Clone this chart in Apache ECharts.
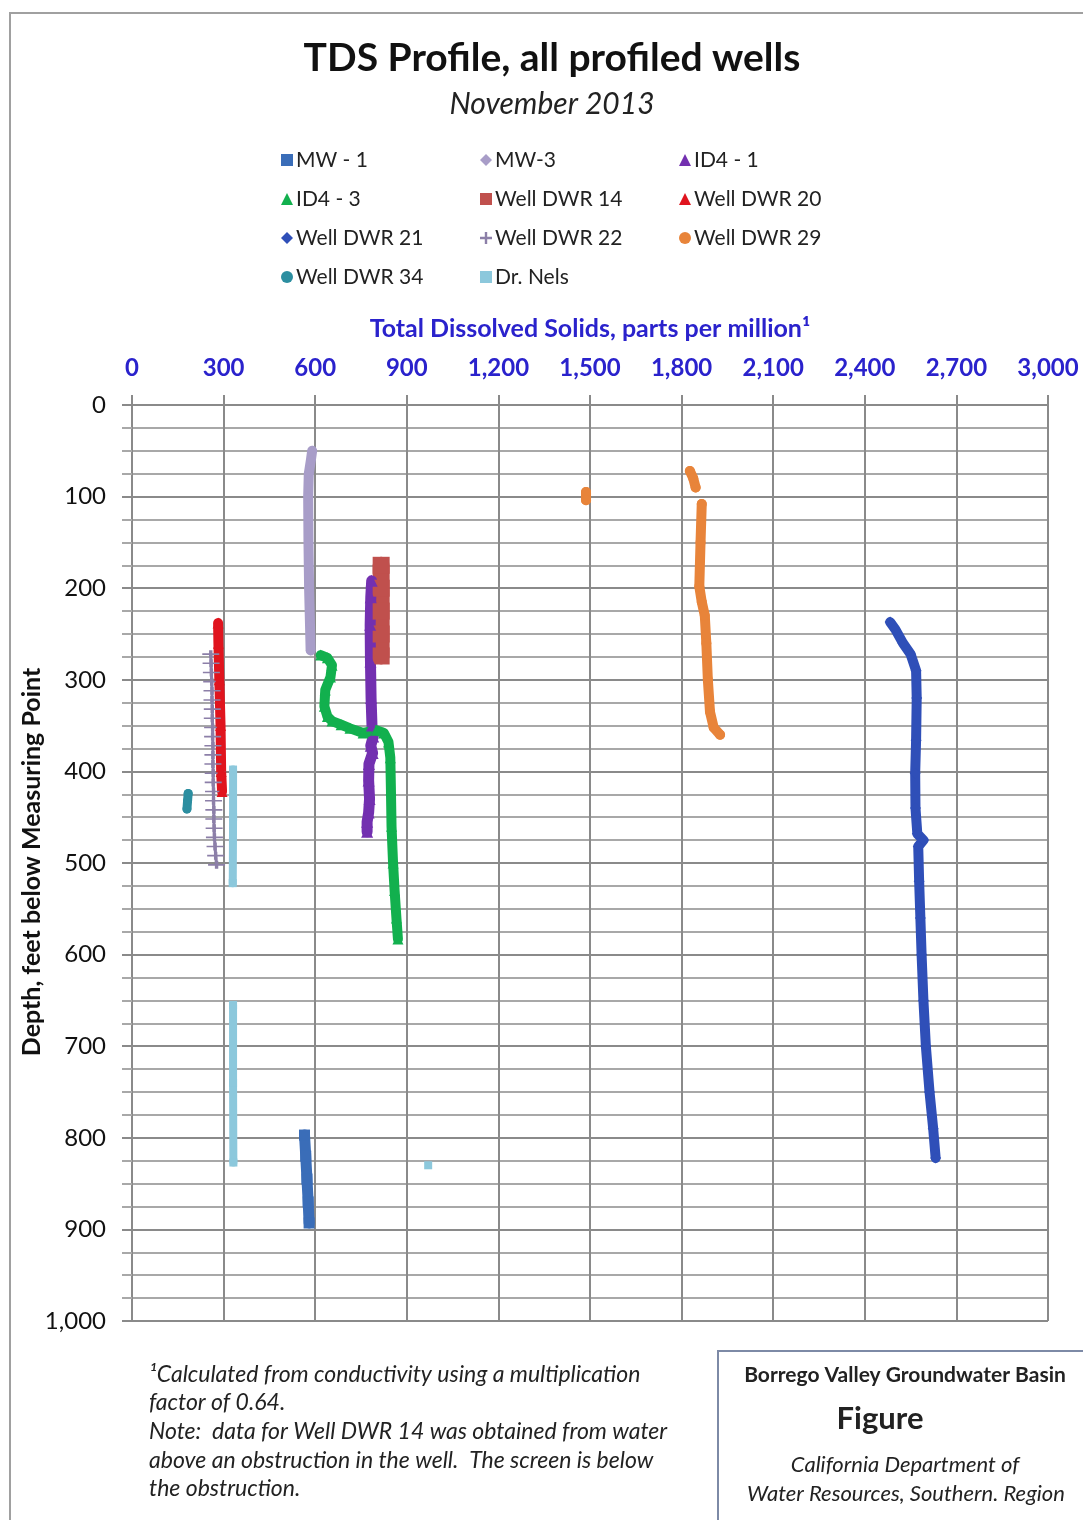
<!DOCTYPE html>
<html>
<head>
<meta charset="utf-8">
<script src="https://cdn.jsdelivr.net/npm/echarts@6/dist/echarts.min.js"></script>
<style>
  html, body { margin: 0; padding: 0; background: #fff; }
  #chart { width: 1083px; height: 1520px; }
</style>
</head>
<body>
<div id="chart"></div>
<script>
// TDS profile (ppm) vs depth (ft below measuring point)
const tdsTicks = [0, 300, 600, 900, 1200, 1500, 1800, 2100, 2400, 2700, 3000];
const depthTicks = [0, 100, 200, 300, 400, 500, 600, 700, 800, 900, 1000];

// each point: [tds, depth]; '-' breaks a trace
const mw1 = [[565, 797], [569, 820], [573, 845], [577, 870], [580, 893]];
const mw3 = [[590, 50], [586, 60], [579, 75], [577, 100], [578, 150], [580, 200], [583, 240], [585, 268]];
const id41 = [[785, 192], [782, 210], [780, 240], [781, 280], [783, 320], [786, 350], [790, 362],
  [782, 372], [788, 380], [776, 392], [775, 410], [778, 430], [775, 445], [770, 455], [770, 466]];
const id43 = [[618, 273], [640, 276], [655, 284], [650, 297], [633, 311], [630, 329], [640, 340],
  [655, 345], [685, 349], [714, 353], [757, 358], [800, 355], [825, 358], [840, 368], [846, 385],
  [848, 420], [850, 460], [855, 500], [860, 530], [866, 560], [871, 583]];
const dwr14 = [[816, 175], [816, 200], [816, 225], [816, 250], [816, 274]];
const dwr20 = [[282, 238], [283, 260], [286, 300], [290, 350], [292, 400], [295, 422]];
const dwr21 = [[2483, 237], [2500, 245], [2525, 260], [2550, 272], [2568, 290], [2570, 320],
  [2568, 366], [2565, 402], [2566, 440], [2572, 468], [2592, 475], [2575, 482], [2578, 520],
  [2582, 560], [2586, 600], [2592, 650], [2600, 700], [2612, 750], [2624, 790], [2632, 822]];
const dwr22 = [[258, 272], [259, 282], [260, 292], [261, 302], [262, 312], [262, 322], [263, 332],
  [263, 342], [264, 352], [264, 362], [265, 372], [265, 382], [265, 392], [266, 402], [266, 412],
  [267, 422], [267, 432], [268, 442], [268, 452], [269, 462], [270, 472], [272, 482], [274, 492], [277, 502]];
const dwr29 = [[1487, 95], [1487, 104], '-', [1827, 72], [1838, 80], [1846, 90], '-',
  [1866, 108], [1862, 150], [1858, 198], [1866, 215], [1876, 230], [1881, 260], [1886, 300],
  [1893, 335], [1905, 352], [1926, 360]];
const dwr34 = [[184, 424], [182, 432], [180, 441]];
const drNels = [[331, 398], [331, 450], [330, 522], '-', [331, 655], [331, 740], [332, 827], '-', [970, 830]];

const legendCols = [
  ["MW - 1", "ID4 - 3", "Well DWR 21", "Well DWR 34"],
  ["MW-3", "Well DWR 14", "Well DWR 22", "Dr. Nels"],
  ["ID4 - 1", "Well DWR 20", "Well DWR 29"]
];

const plusPath = "path://M0,4H10V6H0Z M4,0H6V10H4Z";
const icons = {
  "MW - 1": "rect", "MW-3": "diamond", "ID4 - 1": "triangle", "ID4 - 3": "triangle",
  "Well DWR 14": "rect", "Well DWR 20": "triangle", "Well DWR 21": "diamond",
  "Well DWR 22": plusPath, "Well DWR 29": "circle", "Well DWR 34": "circle", "Dr. Nels": "rect"
};

const fmt = v => String(v).replace(/\B(?=(\d{3})+(?!\d))/g, ",");
const font = "Lato, 'Open Sans', sans-serif";

function trace(name, data, color, width, symbol, size) {
  return {
    name: name,
    type: "line",
    data: data,
    color: color,
    lineStyle: { width: width, color: color, cap: "round", join: "round" },
    symbol: symbol,
    symbolSize: size,
    itemStyle: { color: color },
    connectNulls: false,
    animation: false
  };
}

const myChart = echarts.init(document.getElementById("chart"), null, { renderer: "canvas" });

const option = {
  backgroundColor: "#fff",
  animation: false,
  grid: { left: 132, right: 35, top: 405, bottom: 199 },
  legend: legendCols.map((col, i) => ({
    orient: "vertical",
    left: [276, 475, 674][i],
    top: 144,
    itemWidth: 12,
    itemHeight: 12,
    itemGap: 17,
    textStyle: { fontFamily: font, fontSize: 21, color: "#222", lineHeight: 22, padding: [0, 0, 0, -2] },
    data: col.map(n => ({ name: n, icon: icons[n] }))
  })),
  xAxis: {
    type: "value",
    position: "top",
    min: 0,
    max: 3000,
    interval: 300,
    name: "Total Dissolved Solids, parts per million\u00b9",
    nameLocation: "middle",
    nameGap: 64,
    nameTextStyle: { fontFamily: font, fontSize: 25, fontWeight: "bold", color: "#2A22CC" },
    axisLine: { show: true, lineStyle: { color: "#8a8a8a", width: 2 } },
    axisTick: { show: true, length: 10, lineStyle: { color: "#8a8a8a", width: 2 } },
    axisLabel: { formatter: fmt, margin: 25, fontFamily: font, fontSize: 24, fontWeight: "bold", color: "#2A22CC" },
    splitLine: { show: true, lineStyle: { color: "#8a8a8a", width: 2 } }
  },
  yAxis: {
    type: "value",
    inverse: true,
    min: 0,
    max: 1000,
    interval: 100,
    axisLine: { show: true, lineStyle: { color: "#8a8a8a", width: 2 } },
    axisTick: { show: true, length: 10, lineStyle: { color: "#8a8a8a", width: 2 } },
    minorTick: { show: true, splitNumber: 4, length: 10, lineStyle: { color: "#a8a8a8", width: 2 } },
    axisLabel: { formatter: fmt, margin: 26, fontFamily: font, fontSize: 24, color: "#111" },
    splitLine: { show: true, lineStyle: { color: "#8a8a8a", width: 2 } },
    minorSplitLine: { show: true, lineStyle: { color: "#a8a8a8", width: 2 } }
  },
  series: [
    trace("MW - 1", mw1, "#3A6DB8", 11, "rect", 11),
    trace("MW-3", mw3, "#A89DC8", 10, "diamond", 10),
    trace("Well DWR 14", dwr14, "#C0504D", 17, "rect", 17),
    trace("ID4 - 1", id41, "#7330B0", 11, "triangle", 12),
    trace("ID4 - 3", id43, "#12B04E", 10, "triangle", 11),
    trace("Well DWR 22", dwr22, "#8C7FA8", 3, plusPath, [17, 8]),
    trace("Well DWR 20", dwr20, "#E0141E", 10, "triangle", 11),
    trace("Well DWR 21", dwr21, "#2F4FB8", 10, "diamond", 11),
    trace("Well DWR 29", dwr29, "#E8843A", 10, "circle", 10),
    trace("Well DWR 34", dwr34, "#2C8EA0", 9, "circle", 9),
    trace("Dr. Nels", drNels, "#8CC8DC", 8, "rect", 8)
  ],
  graphic: [
    { type: "polyline", shape: { points: [[10, 1520], [10, 13], [1083, 13]] }, style: { stroke: "#a0a0a0", lineWidth: 2, fill: null } },
    { type: "text", x: 552, y: 39, style: { text: "TDS Profile, all profiled wells", fontFamily: font, fontSize: 39, fontWeight: "bold", fill: "#111", textAlign: "center" } },
    { type: "text", x: 552, y: 89, style: { text: "November 2013", fontFamily: font, fontSize: 30, fontStyle: "italic", fill: "#222", textAlign: "center" } },
    { type: "text", x: 32, y: 862, rotation: Math.PI / 2, style: { text: "Depth, feet below Measuring Point", fontFamily: font, fontSize: 25, fontWeight: "bold", fill: "#111", textAlign: "center", textVerticalAlign: "middle" } },
    { type: "text", x: 149, y: 1360, style: {
      text: "\u00b9Calculated from conductivity using a multiplication\nfactor of 0.64.\nNote:  data for Well DWR 14 was obtained from water\nabove an obstruction in the well.  The screen is below\nthe obstruction.",
      fontFamily: font, fontSize: 23, fontStyle: "italic", fill: "#222", lineHeight: 28.6 } },
    { type: "rect", shape: { x: 718, y: 1351, width: 420, height: 220 }, style: { fill: null, stroke: "#7d8aa6", lineWidth: 2 } },
    { type: "text", x: 905, y: 1365, style: { text: "Borrego Valley Groundwater Basin", fontFamily: font, fontSize: 21, fontWeight: "bold", fill: "#222", textAlign: "center" } },
    { type: "text", x: 880, y: 1403, style: { text: "Figure", fontFamily: font, fontSize: 31, fontWeight: "bold", fill: "#222", textAlign: "center" } },
    { type: "text", x: 905, y: 1454, style: { text: "California Department of", fontFamily: font, fontSize: 22, fontStyle: "italic", fill: "#222", textAlign: "center" } },
    { type: "text", x: 906, y: 1483, style: { text: "Water Resources, Southern. Region", fontFamily: font, fontSize: 22, fontStyle: "italic", fill: "#222", textAlign: "center" } }
  ]
};

myChart.setOption(option);
</script>
</body>
</html>
